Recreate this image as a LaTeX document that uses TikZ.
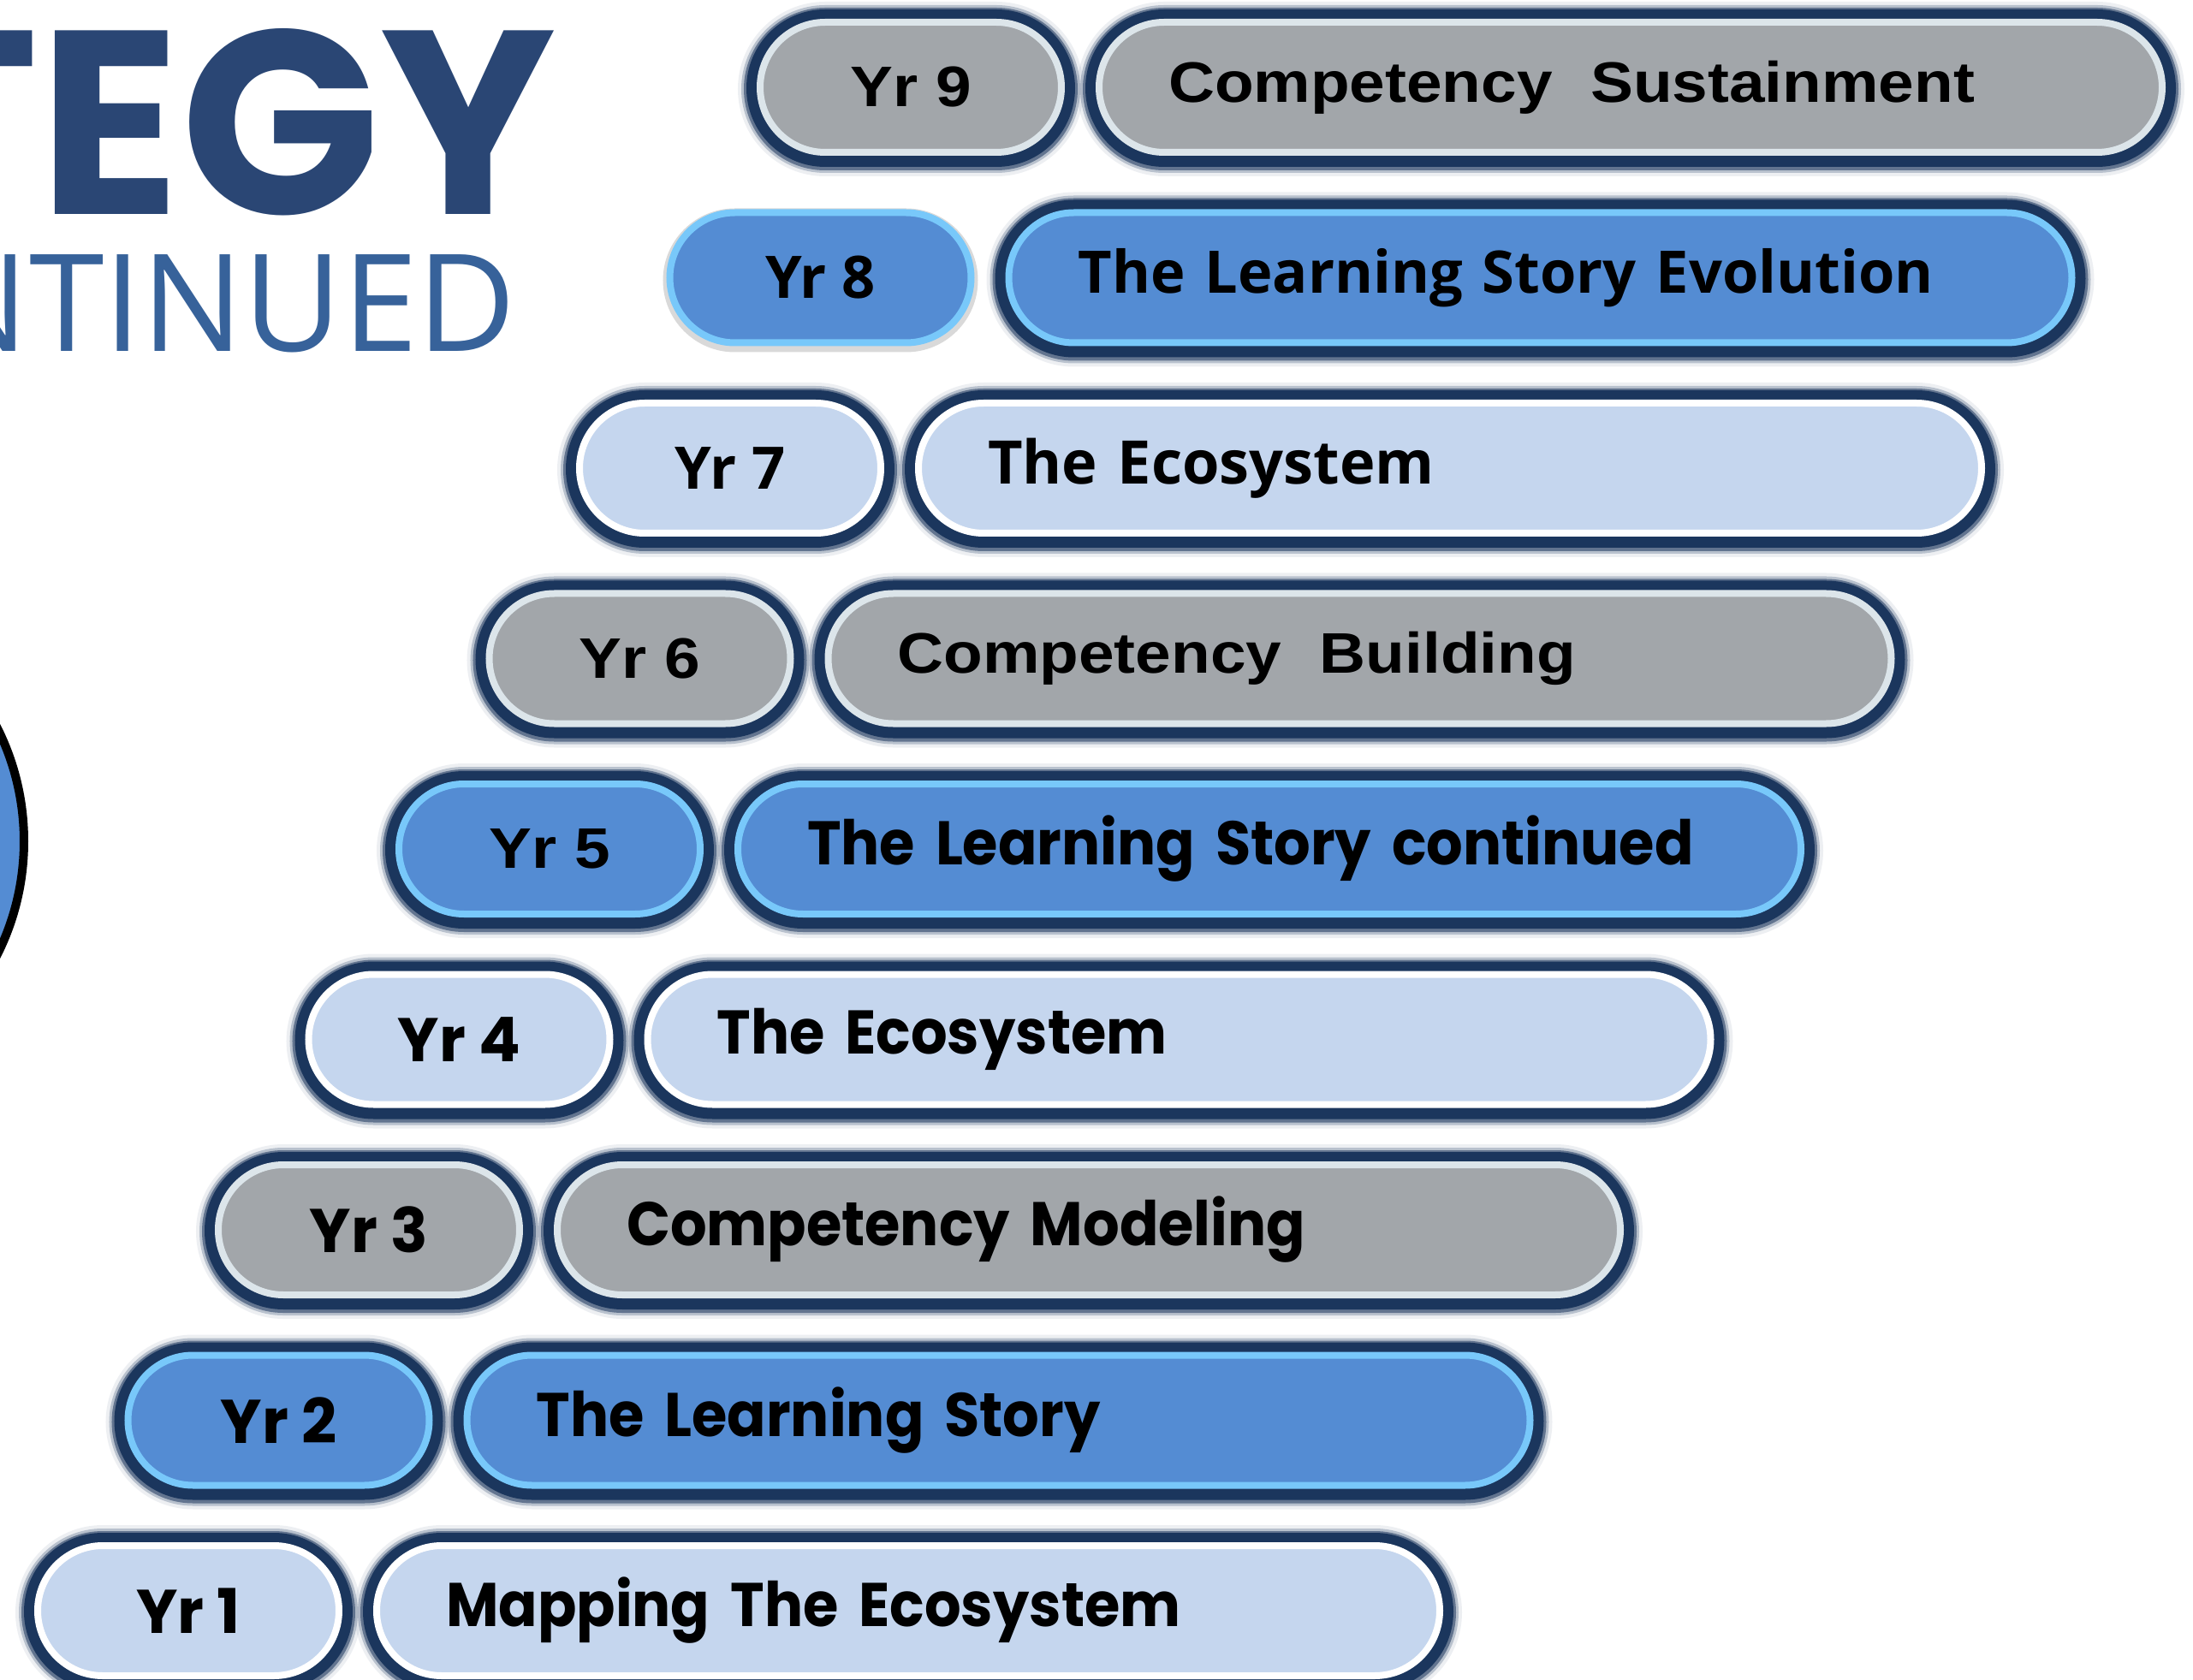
\documentclass[tikz,border=0pt]{standalone}
\usepackage{fontspec}
\usepackage{tikz}
\usetikzlibrary{positioning}
\setmainfont{Poppins}
\newfontfamily\popnarrow[FakeStretch=0.93]{Poppins}
\newfontfamily\opensans{Open Sans}
\newfontfamily\arialfont[FakeStretch=1.12]{Liberation Sans}

\definecolor{glowc}{HTML}{1B365D}
\definecolor{grayfill}{HTML}{A2A6AA}
\definecolor{grayrim}{HTML}{DCE5EA}
\definecolor{bluefill}{HTML}{548CD3}
\definecolor{bluerim}{HTML}{78C8FA}
\definecolor{palefill}{HTML}{C5D6EE}
\definecolor{titleblue}{HTML}{2A4674}
\definecolor{subblue}{HTML}{37629A}

\begin{document}
\begin{tikzpicture}[
    glow/.style={preaction={draw=glowc, line width=0.52cm, opacity=0.08, transform canvas={yshift=-0.02cm}},
                 preaction={draw=glowc, line width=0.44cm, opacity=0.25, transform canvas={yshift=-0.02cm}},
                 preaction={draw=glowc, line width=0.38cm, opacity=0.55, transform canvas={yshift=-0.02cm}},
                 preaction={draw=glowc, line width=0.32cm, transform canvas={yshift=-0.01cm}}},
    pill/.style={rectangle, rounded corners=0.76cm, line width=0.08cm,
                 minimum height=1.52cm, inner sep=0pt},
    yearpill/.style={pill, minimum width=3.52cm, font=\bfseries\fontsize{20.5}{24}\selectfont},
    textpill/.style={pill, text width=10.8cm, inner xsep=0.81cm, align=left,
                 execute at begin node={\hyphenpenalty=10000},
                 font=\popnarrow\bfseries\fontsize{20.5}{24}\selectfont},
    pale/.style={fill=palefill, draw=white},
    blue/.style={fill=bluefill, draw=bluerim},
    grey/.style={fill=grayfill, draw=grayrim}
  ]
  \useasboundingbox (0,0) rectangle (25.62,-19.63);

  % title, cut at the left edge
  \node[anchor=base east, inner sep=0pt, text=titleblue,
        font=\bfseries\fontsize{87}{90}\selectfont] (title) at (6.50,-2.51) {TEGY};
  \node[anchor=base east, inner sep=0pt, text=subblue,
        font=\opensans\fontsize{45}{50}\selectfont] (subtitle) at (6.04,-4.11) {NTINUED};

  % partial circle
  \draw[fill=bluefill, line width=0.10cm] (-2.68,-9.83) circle (2.96);

  % years
  \node[yearpill, pale, glow] (yr1) at (2.20,-18.82) {Yr 1};
  \node[textpill, pale, glow, right=0.36cm of yr1] (t1) {Mapping The Ecosystem};

  \node[yearpill, blue, glow, above=0.625cm of yr1, xshift=1.055cm] (yr2) {Yr 2};
  \node[textpill, blue, glow, right=0.36cm of yr2] (t2) {The Learning Story};

  \node[yearpill, grey, glow, above=0.625cm of yr2, xshift=1.055cm] (yr3) {Yr 3};
  \node[textpill, grey, glow, right=0.36cm of yr3] (t3) {Competency Modeling};

  \node[yearpill, pale, glow, above=0.625cm of yr3, xshift=1.055cm] (yr4) {Yr 4};
  \node[textpill, pale, glow, right=0.36cm of yr4] (t4) {The Ecosystem};

  \node[yearpill, blue, glow, above=0.625cm of yr4, xshift=1.055cm,
        font=\arialfont\bfseries\fontsize{19}{24}\selectfont] (yr5) {Yr 5};
  \node[textpill, blue, glow, right=0.36cm of yr5] (t5) {The Learning Story continued};

  \node[yearpill, grey, glow, above=0.625cm of yr5, xshift=1.055cm,
        font=\arialfont\bfseries\fontsize{19}{24}\selectfont] (yr6) {Yr 6};
  \node[textpill, grey, glow, right=0.36cm of yr6,
        font=\arialfont\bfseries\fontsize{19}{24}\selectfont] (t6) {Competency\ \ Building};

  \node[yearpill, pale, glow, above=0.625cm of yr6, xshift=1.055cm,
        font=\opensans\bfseries\fontsize{19.5}{24}\selectfont] (yr7) {Yr 7};
  \node[textpill, pale, glow, right=0.36cm of yr7,
        font=\opensans\bfseries\fontsize{20}{24}\selectfont] (t7) {The Ecosystem};

  \node[yearpill, blue, above=0.625cm of yr7, xshift=1.055cm,
        preaction={draw=black, opacity=0.15, line width=0.16cm, transform canvas={yshift=-0.03cm}},
        font=\opensans\bfseries\fontsize{19.5}{24}\selectfont] (yr8) {Yr 8};
  \node[textpill, blue, glow, right=0.36cm of yr8,
        font=\opensans\bfseries\fontsize{19.5}{24}\selectfont] (t8) {The Learning Story Evolution};

  \node[yearpill, grey, glow, above=0.625cm of yr8, xshift=1.055cm,
        font=\arialfont\bfseries\fontsize{19}{24}\selectfont] (yr9) {Yr 9};
  \node[textpill, grey, glow, right=0.36cm of yr9,
        font=\arialfont\bfseries\fontsize{19}{24}\selectfont] (t9) {Competency\ \ Sustainment};
\end{tikzpicture}
\end{document}
